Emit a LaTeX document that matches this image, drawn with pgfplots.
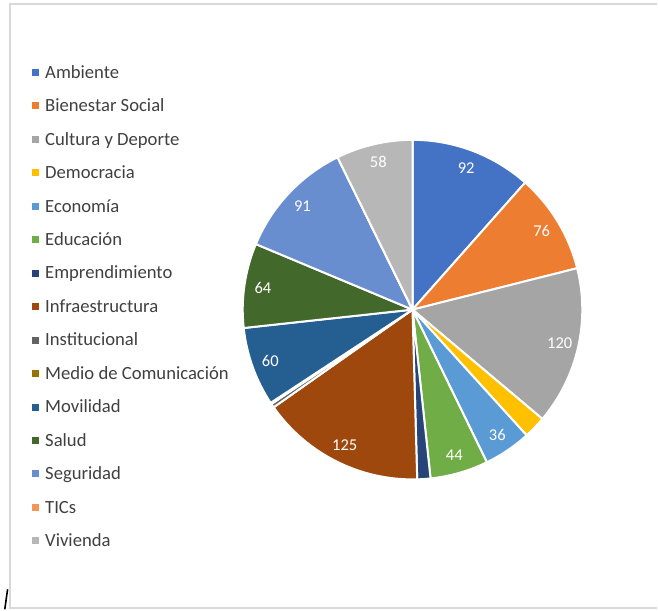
\documentclass[border=0pt]{standalone}
\usepackage{pgfplots}
\usepackage{pgfplotstable}
\pgfplotsset{compat=1.18}
\usepackage{fontspec}
\setmainfont{Carlito}

\definecolor{c0}{HTML}{4472C4}
\definecolor{c1}{HTML}{ED7D31}
\definecolor{c2}{HTML}{A5A5A5}
\definecolor{c3}{HTML}{FFC000}
\definecolor{c4}{HTML}{5B9BD5}
\definecolor{c5}{HTML}{70AD47}
\definecolor{c6}{HTML}{264478}
\definecolor{c7}{HTML}{9E480E}
\definecolor{c8}{HTML}{636363}
\definecolor{c9}{HTML}{997300}
\definecolor{c10}{HTML}{255E91}
\definecolor{c11}{HTML}{43682B}
\definecolor{c12}{HTML}{698ED0}
\definecolor{c13}{HTML}{F1975A}
\definecolor{c14}{HTML}{B7B7B7}
\definecolor{lgdtext}{HTML}{404040}
\definecolor{framegray}{HTML}{D9D9D9}

\pgfplotstableread[col sep=comma]{
name,value
Ambiente,92
Bienestar Social,76
Cultura y Deporte,120
Democracia,17
Economía,36
Educación,44
Emprendimiento,10
Infraestructura,125
Institucional,3
Medio de Comunicación,1
Movilidad,60
Salud,64
Seguridad,91
TICs,0
Vivienda,58
}\piedata
\pgfplotstablecreatecol[create col/expr accum={\pgfmathaccuma + \thisrow{value}}{0}]{cum}\piedata
\pgfplotstablegetelem{14}{cum}\of\piedata
\let\pietotal\pgfplotsretval
\pgfmathsetmacro\piescale{360/\pietotal}

\tikzset{
  lbl/.style={text=white, inner sep=0pt, font=\fontsize{12.4}{14}\selectfont},
  lgd/.style={text=lgdtext, inner sep=0pt, font=\fontsize{14}{16}\selectfont},
}

\begin{document}
\begin{tikzpicture}
\begin{axis}[
  x=0.75pt, y=0.75pt,
  xmin=0, xmax=658, ymin=0, ymax=610,
  scale only axis,
  hide axis,
  clip=false,
]
\path (axis cs:0,0) rectangle (axis cs:658,610);
% chart frame
\draw[framegray, line width=1.2pt] (axis cs:658,606.2) -- (axis cs:10,606.2) -- (axis cs:10,1) -- (axis cs:658,1);
\draw[black, line width=1.2pt] (axis cs:4.8,0) -- (axis cs:7.6,20);
% wedges, labels and legend
\pgfplotsinvokeforeach{0,...,14}{
  \pgfplotstablegetelem{#1}{value}\of\piedata \let\pval\pgfplotsretval
  \pgfplotstablegetelem{#1}{cum}\of\piedata \let\pcum\pgfplotsretval
  \pgfplotstablegetelem{#1}{name}\of\piedata \let\pname\pgfplotsretval
  \pgfmathsetmacro\angS{90-\piescale*(\pcum-\pval)}
  \pgfmathsetmacro\angE{90-\piescale*\pcum}
  \pgfmathsetmacro\angM{90-\piescale*(\pcum-\pval/2)}
  \edef\tmp{\noexpand\fill[c#1, draw=white, line width=1.5pt] (axis cs:413,300) -- ++(\angS:127.5pt) arc[start angle=\angS, end angle=\angE, radius=127.5pt] -- cycle;}
  \tmp
  \ifdim\pval pt>20pt
    \edef\tmp{\noexpand\path (axis cs:413,300) ++(\angM:113.5pt) node[lbl] {\pval};}
    \tmp
  \fi
  \pgfmathsetmacro\lyc{610-(72.5+33.5*#1)}
  \pgfmathsetmacro\lyA{\lyc-3.5}
  \pgfmathsetmacro\lyB{\lyc+3.5}
  \pgfmathsetmacro\lyb{\lyc-5.8}
  \edef\tmp{\noexpand\fill[c#1] (axis cs:32,\lyA) rectangle (axis cs:39,\lyB);}
  \tmp
  \edef\tmp{\noexpand\node[lgd, anchor=base west] at (axis cs:45,\lyb) {\pname};}
  \tmp
}
\end{axis}
\end{tikzpicture}
\end{document}
